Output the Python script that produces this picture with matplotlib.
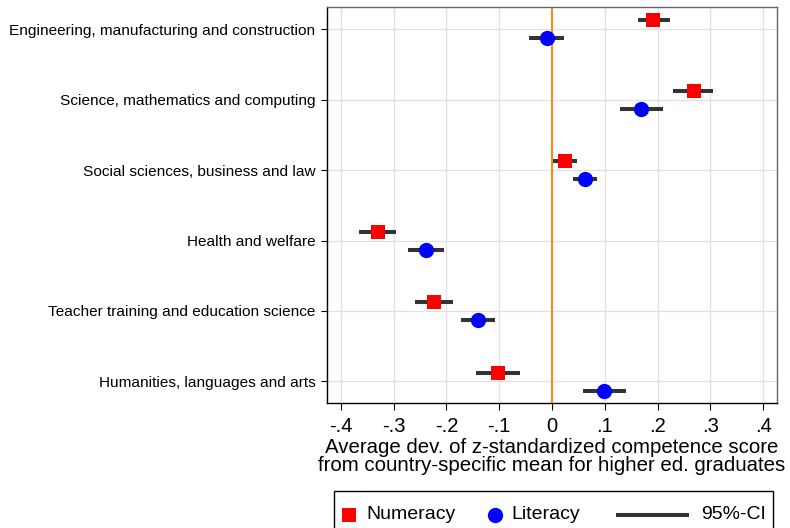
import matplotlib
matplotlib.use('Agg')
import matplotlib.pyplot as plt
from matplotlib.lines import Line2D
from matplotlib.offsetbox import AnchoredOffsetbox, HPacker, VPacker, DrawingArea, TextArea

plt.rcParams['font.family'] = ['Liberation Sans', 'DejaVu Sans']

# data
fields = ['Engineering, manufacturing and construction',
          'Science, mathematics and computing',
          'Social sciences, business and law',
          'Health and welfare',
          'Teacher training and education science',
          'Humanities, languages and arts']
num_mean = [0.192, 0.268, 0.024, -0.330, -0.224, -0.102]
num_lo = [0.162, 0.230, 0.001, -0.365, -0.260, -0.143]
num_hi = [0.223, 0.305, 0.047, -0.295, -0.188, -0.061]
lit_mean = [-0.010, 0.169, 0.062, -0.239, -0.140, 0.098]
lit_lo = [-0.044, 0.129, 0.039, -0.273, -0.172, 0.058]
lit_hi = [0.023, 0.210, 0.086, -0.205, -0.108, 0.140]
xticks = [-0.4, -0.3, -0.2, -0.1, 0, 0.1, 0.2, 0.3, 0.4]
xticklabels = ['-.4', '-.3', '-.2', '-.1', '0', '.1', '.2', '.3', '.4']

fig = plt.figure(figsize=(7.9, 5.28), dpi=100)
ax = fig.add_axes([327.3 / 790, 1 - 403.3 / 528, 449.4 / 790, 396 / 528])

pos = list(range(len(fields)))
y_num = [p - 0.125 for p in pos]
y_lit = [p + 0.13 for p in pos]

ci_col = '#333333'
ax.hlines(y_num, num_lo, num_hi, color=ci_col, lw=2.9, zorder=3, capstyle='butt')
ax.hlines(y_lit, lit_lo, lit_hi, color=ci_col, lw=2.9, zorder=3, capstyle='butt')
ax.plot(num_mean, y_num, 's', color='#ff0000', ms=9.5, mew=0, zorder=4)
ax.plot(lit_mean, y_lit, 'o', color='#0000ff', ms=11, mew=0, zorder=4)

ax.axvline(0, color='#f98a1c', lw=1.5, zorder=2)

ax.set_xlim(-0.4255, 0.4255)
ax.set_ylim(len(fields) - 1 + 0.31, -0.31)
ax.set_xticks(xticks)
ax.set_xticklabels(xticklabels, fontsize=14.5)
ax.set_yticks(pos)
ax.set_yticklabels(fields, fontsize=11.1)
ax.tick_params(axis='x', length=5, width=0.8, pad=5)
ax.tick_params(axis='y', length=4.5, width=0.8, pad=4)
ax.grid(True, color='#e0e0e0', lw=0.9, zorder=0)
ax.set_axisbelow(True)
for s in ['left', 'bottom']:
    ax.spines[s].set_color('black')
    ax.spines[s].set_linewidth(1.0)
for s in ['top', 'right']:
    ax.spines[s].set_color('#666666')
    ax.spines[s].set_linewidth(1.0)

ax.set_xlabel('Average dev. of z-standardized competence score\n'
              'from country-specific mean for higher ed. graduates',
              fontsize=14.7, labelpad=1, linespacing=0.95)

# legend built from boxes so the handles can have different widths
px = 0.72


def spacer(w, h=1):
    return DrawingArea(w * px, h * px)


def marker_area(marker, color, ms, w):
    da = DrawingArea(w * px, 20 * px)
    da.add_artist(Line2D([w * px / 2], [10 * px], marker=marker, color=color,
                         ms=ms, mew=0, linestyle='none'))
    return da


line_area = DrawingArea(73 * px, 20 * px)
line_area.add_artist(Line2D([0, 73 * px], [10 * px, 10 * px], color=ci_col,
                            lw=2.9, solid_capstyle='butt'))

tp = dict(fontsize=14, color='black')
row = HPacker(children=[marker_area('s', '#ff0000', 9.5, 14), spacer(11),
                        TextArea('Numeracy', textprops=tp), spacer(31),
                        marker_area('o', '#0000ff', 11, 15), spacer(9),
                        TextArea('Literacy', textprops=tp), spacer(36),
                        line_area, spacer(12),
                        TextArea('95%-CI', textprops=tp)],
              sep=0, pad=0, align='center')
box = VPacker(children=[spacer(1, 6), row], sep=0, pad=0, align='left')
leg = AnchoredOffsetbox(loc='upper left', child=box, pad=0.4, borderpad=0,
                        frameon=True, prop=dict(size=14),
                        bbox_to_anchor=(334 / 790, 1 - 491 / 528),
                        bbox_transform=fig.transFigure)
leg.patch.set_edgecolor('black')
leg.patch.set_linewidth(1.0)
leg.patch.set_boxstyle('square', pad=0)
fig.add_artist(leg)

fig.savefig('out.png', dpi=100)
